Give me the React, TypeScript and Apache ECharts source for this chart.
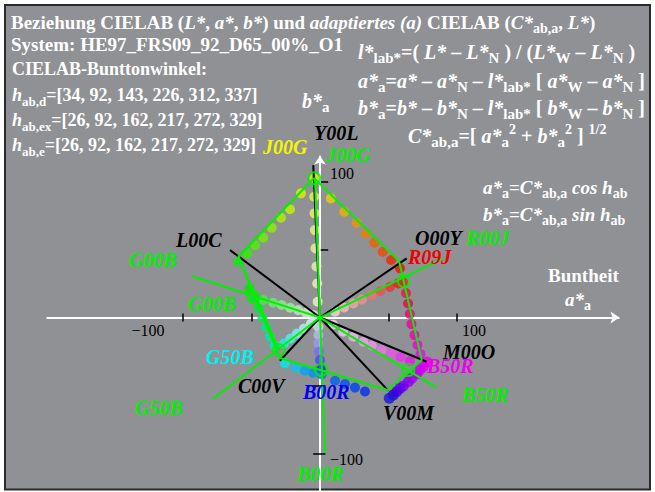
import React, { useEffect, useRef } from 'react';
import * as echarts from 'echarts';

const W = 655;
const H = 492;
// value window of the a*/b* plane across the whole canvas
const X_MIN = -234;
const X_MAX = 245;
const Y_MIN = -128.3;
const Y_MAX = 233.5;

const hueD = [34, 92, 143, 226, 312, 337];
const hueEx = [26, 92, 162, 217, 272, 329];
const hueE = [26, 92, 162, 217, 272, 329];

const tickValues = [-100, -50, 50, 100];

// black rays (d hues): end points [a*, b*]
const rayD = [[-4.9, 112.1], [63.4, 43.5], [78.0, -32.5], [49.9, -53.8], [-29.3, -31.8], [-65.8, 49.6]];
// green hexagon of the device colours
const hexagon = [[-4.4, 102.6], [57.8, 41.5], [74.4, -31.3], [49.2, -53.3], [-29.3, -29.8], [-59.7, 44.7]];
// green rays (e hues)
const rayE = [[90.2, 43.5], [-3.7, 102.6], [-93.8, 30.5], [-78.5, -59.9], [3.7, -99.6], [85.3, -51.6]];
// extra green segment on the L00C - C00V side
const sideLine = [[-59.7, 44.7], [-30.0, -23.9]];
// hollow rings where the e hues meet the hexagon
const rings = [[-4.2, 102.4], [61.4, 26.8], [-48.8, 15.3], [-30.0, -23.9], [0.7, -38.6], [64.6, -38.6]];

// colour series along the hexagon edges and the grey rays
const edgeYG = [[-4.2, 102.4], [-13.9, 91.3], [-21.9, 79.6], [-28.5, 73.4], [-35.3, 66.0], [-41.5, 58.7], [-47.5, 53.3], [-53.2, 47.2], [-59.7, 41.0]];
const edgeYGCol = ['#e8e800', '#e0f000', '#c8f000', '#b0f000', '#90f000', '#70f000', '#50f000', '#30f000', '#10e810'];

const edgeYO = [[8.0, 87.6], [17.8, 77.8], [26.8, 69.7], [33.6, 61.9], [39.7, 55.0], [45.9, 48.4], [52.0, 42.3], [58.5, 36.2]];
const edgeYOCol = ['#f0d000', '#f0b000', '#f09400', '#f07c00', '#f06000', '#f04800', '#f02800', '#f01000'];

const edgeOM = [[60.7, 26.1], [62.9, 18.0], [64.4, 10.3], [65.7, 2.6], [66.9, -4.8], [69.1, -12.9], [71.3, -20.2], [73.5, -26.8]];
const edgeOMCol = ['#f02020', '#f01040', '#f00050', '#f00070', '#f00090', '#f000b0', '#f000d0', '#f000f0'];

const edgeMV = [[78.3, -32.7], [75.5, -36.2], [73.1, -38.6], [70.7, -41.5], [67.1, -44.7], [64.6, -47.2], [60.9, -50.4], [58.5, -52.1], [56.1, -54.6], [53.6, -57.0], [50.7, -59.4]];
const edgeMVCol = ['#f000f0', '#e000f0', '#d000f0', '#c000f0', '#a800f0', '#9000f0', '#7800f0', '#6000f0', '#4800e8', '#3000e0', '#1818d8'];

const edgeVC = [[32.9, -54.4], [25.6, -51.5], [18.3, -48.9], [11.0, -46.5], [1.2, -41.9], [-4.9, -40.6], [-11.0, -39.1], [-17.6, -36.8], [-25.6, -33.7]];
const edgeVCCol = ['#0030f0', '#0040f0', '#0050f0', '#0060f0', '#0070f0', '#0090f0', '#00a8f0', '#00c8f0', '#00e8f0'];

const edgeLC = [[-51.6, 21.3], [-48.3, 14.3], [-45.0, 7.0], [-42.1, 0], [-39.5, -7.0], [-36.6, -14.0], [-33.3, -20.6]];
const edgeLCCol = ['#00e800', '#00e820', '#00e840', '#00e860', '#00e880', '#00e8a0', '#00e8c0'];

const grayG = [[-4.9, 1.8], [-10.2, 3.5], [-15.9, 5.5], [-21.9, 7.2], [-28.0, 9.2], [-34.2, 10.9], [-41.5, 12.9]];
const grayGCol = ['#e0f0e0', '#d0f0d0', '#b8f0b8', '#a0f0a0', '#88f088', '#68f068', '#40f040'];

const grayY = [[-1.7, 11.6], [-2.0, 25.1], [-2.6, 37.5], [-3.3, 50.9], [-3.7, 64.3], [-4.0, 76.6], [-4.2, 88.8]];
const grayYCol = ['#f0f0d0', '#f0f0c0', '#f0f0b0', '#f0f0a0', '#f0f090', '#f0f070', '#f0f050'];

const grayR = [[11.0, 4.3], [17.6, 7.4], [24.4, 10.4], [30.7, 13.2], [37.8, 16.5], [44.2, 19.5], [51.2, 22.6], [57.3, 25.1]];
const grayRCol = ['#f0d8d8', '#f0c0c0', '#f0a8a8', '#f09090', '#f07070', '#f05050', '#f03030', '#f01818'];

const grayM = [[9.5, -5.1], [17.0, -10.4], [24.4, -14.1], [31.7, -17.8], [38.0, -20.6], [45.1, -23.9], [52.4, -26.3], [58.9, -29.0], [65.8, -32.0]];
const grayMCol = ['#f0d8f0', '#f0c8f0', '#f0b8f0', '#f0a0f0', '#f090f0', '#f070f0', '#f050f0', '#f030f0', '#f010f0'];

const grayB = [[-1.2, -6.8], [-1.2, -12.9], [-1.2, -19.0], [-0.7, -25.1], [0, -31.3], [0.7, -37.4]];
const grayBCol = ['#d8d8f0', '#b8b8f0', '#9898f0', '#7070f0', '#4848f0', '#2020f0'];

const grayC = [[-6.6, -4.4], [-11.7, -8.1], [-16.8, -11.8], [-21.6, -15.4], [-26.3, -19.1]];
const grayCCol = ['#d0f0f0', '#b0f0f0', '#80f0f0', '#50f0f0', '#20f0f0'];

const GREEN = '#00f000';
const SERIF = '"Liberation Serif", "Times New Roman", serif';

// name labels: [text, x, y, colour]
const nameLabels: [string, number, number, string][] = [
  ['Y00L', 314, 133, '#000'],
  ['J00G', 263, 147, '#f5f500'],
  ['J00G', 326, 155, GREEN],
  ['L00C', 176, 240, '#000'],
  ['G00B', 129, 260, GREEN],
  ['G00B', 188, 304, GREEN],
  ['O00Y', 415, 238, '#000'],
  ['R00J', 466, 238, GREEN],
  ['R09J', 408, 257, '#f00000'],
  ['M00O', 443, 352, '#000'],
  ['B50R', 427, 366, '#f000f0'],
  ['B50R', 462, 395, GREEN],
  ['V00M', 383, 413, '#000'],
  ['B00R', 303, 392, '#0000f0'],
  ['C00V', 238, 386, '#000'],
  ['G50B', 206, 357, '#00f0f0'],
  ['G50B', 135, 408, GREEN],
  ['B00R', 297, 474, GREEN],
];

const rich = (size: number) => ({
  n: { fontFamily: SERIF, fontWeight: 'bold', fontSize: size, fill: '#fff' },
  v: { fontFamily: SERIF, fontWeight: 'bold', fontStyle: 'italic', fontSize: size, fill: '#fff' },
  s: { fontFamily: SERIF, fontWeight: 'bold', fontSize: Math.round(size * 0.74), fill: '#fff', padding: [12, 0, 0, 0] },
  p: { fontFamily: SERIF, fontWeight: 'bold', fontSize: Math.round(size * 0.7), fill: '#fff', padding: [0, 0, 14, 0] },
});

const richText = (x: number, y: number, text: string, size: number) => ({
  type: 'text',
  x,
  y,
  z: 100,
  style: { text, rich: rich(size), textAlign: 'left', textVerticalAlign: 'middle', verticalAlign: 'middle' },
});

const dots = (pts: number[][], cols: string[], size = 10) => ({
  type: 'scatter',
  symbol: 'circle',
  symbolSize: size,
  z: 3,
  data: pts.map((p, i) => ({ value: p, itemStyle: { color: cols[i] } })),
});

const rays = (ends: number[][], color: string, width: number, z: number) => ({
  type: 'lines',
  coordinateSystem: 'cartesian2d',
  z,
  lineStyle: { color, width, opacity: 1 },
  data: ends.map((e) => ({ coords: [[0, 0], e] })),
});

export default function App() {
  const ref = useRef<HTMLDivElement>(null);

  useEffect(() => {
    if (!ref.current) return;
    const chart = echarts.init(ref.current, null, { renderer: 'svg' });

    const hueLine = (sub: string, vals: number[]) =>
      `{v|h}{s|${sub}}{n|=[${vals.join(', ')}]}`;

    const graphic: any[] = [
      {
        type: 'rect',
        z: -100,
        shape: { x: 5, y: 5, width: 645, height: 484.5 },
        style: { fill: '#909195', stroke: '#2a2a2a', lineWidth: 2 },
      },
      richText(11, 22, '{n|Beziehung CIELAB (}{v|L*}{n|, }{v|a*}{n|, }{v|b*}{n|) und }{v|adaptiertes (a)}{n| CIELAB (}{v|C*}{s|ab,a}{n|, }{v|L*}{n|)}', 19),
      richText(11, 44, '{n|System: HE97_FRS09_92_D65_00%_O1}', 19),
      richText(12, 69, '{n|CIELAB-Bunttonwinkel:}', 18),
      richText(12, 95, hueLine('ab,d', hueD), 18),
      richText(12, 120, hueLine('ab,ex', hueEx), 18),
      richText(12, 145, hueLine('ab,e', hueE), 18),
      richText(302, 101, '{v|b*}{s|a}', 20),
      richText(358, 52, '{v|l*}{s|lab*}{n|=( }{v|L*}{n| – }{v|L*}{s|N}{n| ) / (}{v|L*}{s|W}{n| – }{v|L*}{s|N}{n| )}', 20),
      richText(358, 81, '{v|a*}{s|a}{n|=}{v|a*}{n| – }{v|a*}{s|N}{n| – }{v|l*}{s|lab*}{n| [ }{v|a*}{s|W}{n| – }{v|a*}{s|N}{n| ]}', 20),
      richText(358, 108, '{v|b*}{s|a}{n|=}{v|b*}{n| – }{v|b*}{s|N}{n| – }{v|l*}{s|lab*}{n| [ }{v|b*}{s|W}{n| – }{v|b*}{s|N}{n| ]}', 20),
      richText(408, 136, '{v|C*}{s|ab,a}{n|=[ }{v|a*}{s|a}{p|2}{n| + }{v|b*}{s|a}{p|2}{n| ] }{p|1/2}', 20),
      richText(483, 187, '{v|a*}{s|a}{n|=}{v|C*}{s|ab,a}{v| cos h}{s|ab}', 19),
      richText(483, 214, '{v|b*}{s|a}{n|=}{v|C*}{s|ab,a}{v| sin h}{s|ab}', 19),
      richText(548, 275, '{n|Buntheit}', 19),
      richText(565, 299, '{v|a*}{s|a}', 19),
      // tick labels
      { type: 'text', x: 148, y: 330, z: 100, style: { text: '−100', font: `16px ${SERIF}`, fill: '#000', textAlign: 'center', textVerticalAlign: 'middle' } },
      { type: 'text', x: 474, y: 330, z: 100, style: { text: '100', font: `16px ${SERIF}`, fill: '#000', textAlign: 'center', textVerticalAlign: 'middle' } },
      { type: 'text', x: 330, y: 173, z: 100, style: { text: '100', font: `16px ${SERIF}`, fill: '#000', textAlign: 'left', textVerticalAlign: 'middle' } },
      { type: 'text', x: 330, y: 459, z: 100, style: { text: '−100', font: `16px ${SERIF}`, fill: '#000', textAlign: 'left', textVerticalAlign: 'middle' } },
      ...nameLabels.map(([t, x, y, c]) => ({
        type: 'text',
        x,
        y,
        z: 100,
        style: { text: t, font: `italic bold 20px ${SERIF}`, fill: c, textAlign: 'left', textVerticalAlign: 'middle' },
      })),
    ];

    const option: any = {
      animation: false,
      backgroundColor: '#ffffff',
      grid: { left: 0, right: 0, top: 0, bottom: 0 },
      xAxis: { type: 'value', min: X_MIN, max: X_MAX, show: false },
      yAxis: { type: 'value', min: Y_MIN, max: Y_MAX, show: false },
      graphic,
      series: [
        {
          type: 'lines',
          coordinateSystem: 'cartesian2d',
          z: 1,
          symbol: ['none', 'arrow'],
          symbolSize: 9,
          lineStyle: { color: '#ffffff', width: 2, opacity: 1 },
          data: [
            { coords: [[-200, 0], [219, 0]] },
            { coords: [[0, Y_MIN], [0, 119]] },
          ],
        },
        {
          type: 'lines',
          coordinateSystem: 'cartesian2d',
          z: 1,
          lineStyle: { color: '#000', width: 1.5, opacity: 1 },
          data: [
            ...tickValues.map((t) => ({ coords: [[t, 3], [t, -3]] })),
            ...tickValues.map((t) => ({ coords: [[t > 0 ? 0.5 : -5, t], [t > 0 ? 6 : 4, t]] })),
          ],
        },
        dots(grayY, grayYCol),
        dots(grayG, grayGCol),
        dots(grayR, grayRCol),
        dots(grayM, grayMCol),
        dots(grayB, grayBCol),
        dots(grayC, grayCCol),
        dots(edgeYG, edgeYGCol),
        dots(edgeYO, edgeYOCol),
        dots(edgeOM, edgeOMCol),
        dots(edgeMV, edgeMVCol, 11),
        dots(edgeVC, edgeVCCol),
        dots(edgeLC, edgeLCCol),
        rays(rayD, '#000', 2, 5),
        {
          type: 'line',
          z: 6,
          symbol: 'none',
          lineStyle: { color: GREEN, width: 2 },
          data: [...hexagon, hexagon[0]],
        },
        {
          type: 'line',
          z: 6,
          symbol: 'none',
          lineStyle: { color: GREEN, width: 2 },
          data: sideLine,
        },
        rays(rayE, GREEN, 2, 6),
        {
          type: 'scatter',
          z: 7,
          symbol: 'circle',
          symbolSize: 12,
          itemStyle: { color: 'rgba(0,0,0,0)', borderColor: GREEN, borderWidth: 2 },
          data: rings,
        },
      ],
    };

    chart.setOption(option);
    return () => chart.dispose();
  }, []);

  return <div ref={ref} style={{ position: 'fixed', left: 0, top: 0, width: W, height: H }} />;
}
